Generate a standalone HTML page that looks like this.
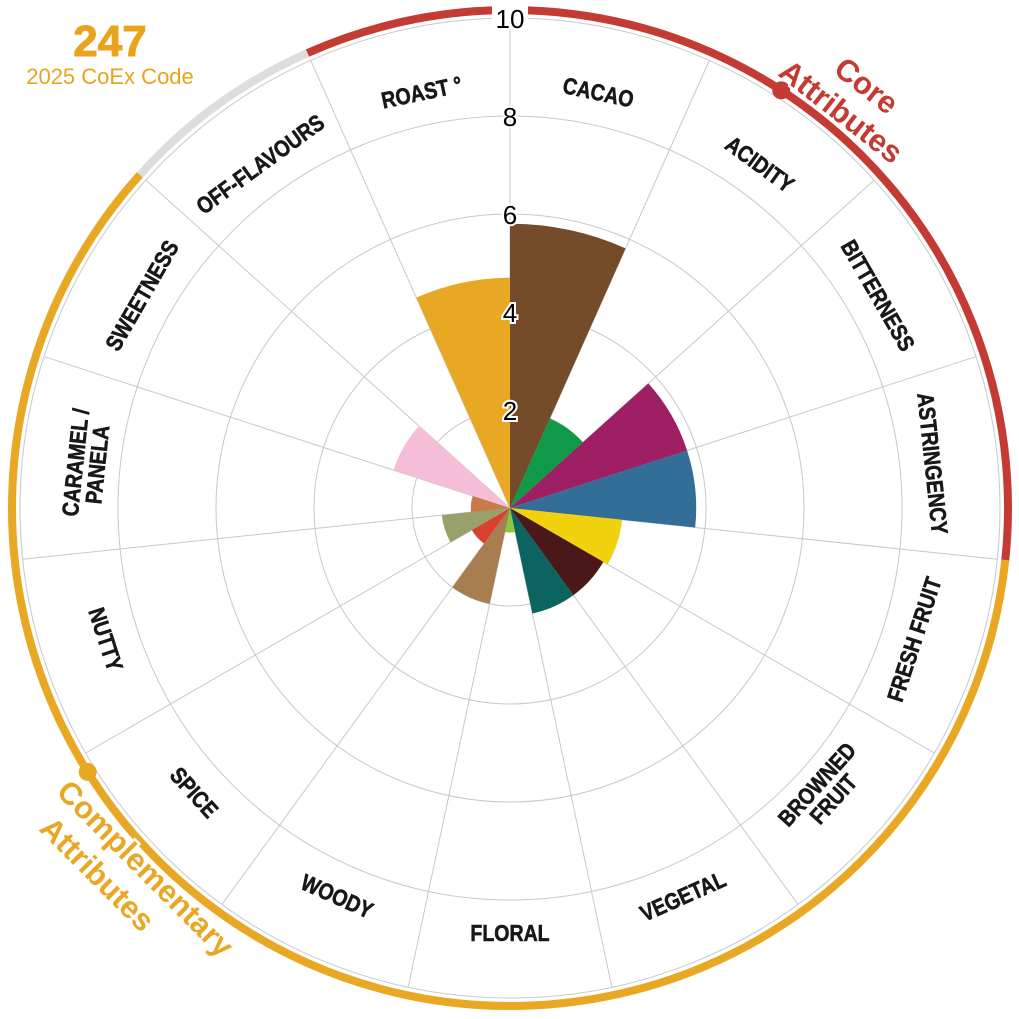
<!DOCTYPE html>
<html><head><meta charset="utf-8"><style>
html,body{margin:0;padding:0;background:#fff;}
svg{display:block;font-family:"Liberation Sans",sans-serif;}
</style></head><body>
<svg id="chart" width="1019" height="1019" viewBox="0 0 1019 1019" xmlns="http://www.w3.org/2000/svg">
<g id="grid"></g>
<g id="bars"></g>
<g id="ring"></g>
<g id="labels"></g>
<g id="ticks"></g>
<text x="110" y="56" text-anchor="middle" font-size="44" font-weight="bold" fill="#E8A41C" stroke="#E8A41C" stroke-width="1">247</text>
<text x="110" y="84" text-anchor="middle" font-size="22" fill="#E8A41C">2025 CoEx Code</text>
<text transform="translate(860,94) rotate(38)" text-anchor="middle" font-size="31" font-weight="bold" fill="#C33B32" stroke="#fff" stroke-width="5" paint-order="stroke"><tspan x="0" dy="0">Core</tspan><tspan x="-4" dy="36">Attributes</tspan></text>
<text transform="translate(138,876) rotate(45)" text-anchor="middle" font-size="31" font-weight="bold" fill="#E8A823" stroke="#fff" stroke-width="5" paint-order="stroke"><tspan x="0" dy="0">Complementary</tspan><tspan x="-30" dy="38">Attributes</tspan></text>
</svg>
<script>
const categories = ["CACAO","ACIDITY","BITTERNESS","ASTRINGENCY","FRESH FRUIT","BROWNED FRUIT","VEGETAL","FLORAL","WOODY","SPICE","NUTTY","CARAMEL / PANELA","SWEETNESS","OFF-FLAVOURS","ROAST °"];
const values = [5.8,2.0,3.8,3.8,2.3,2.2,2.2,0.5,2.0,0.9,1.4,0.8,2.5,0,4.7];
const colors = ["#754C29","#11994A","#9E1F63","#336E99","#F2D20F","#4A1818","#0B6460","#8DC63F","#A87D50","#D9412F","#9AA06A","#C87A4A","#F5BED6","#cccccc","#E8A823"];
const tickLabels = ["2","4","6","8","10"];
const tickValues = [2,4,6,8,10];
const NS="http://www.w3.org/2000/svg";
const cx=510, cy=508, R=490, maxV=10;
const n=categories.length, step=360/n;
const r = v => v/maxV*R;
const pt=(rad,deg)=>{const a=(deg-90)*Math.PI/180;return [cx+rad*Math.cos(a), cy+rad*Math.sin(a)];};
function mk(tag,attrs,parent){const e=document.createElementNS(NS,tag);for(const k in attrs)e.setAttribute(k,attrs[k]);parent.appendChild(e);return e;}
const grid=document.getElementById('grid');
tickValues.forEach(v=>{
  const c=mk('circle',{cx:cx,cy:cy,r:r(v),fill:'none',stroke:'#c8c8c8','stroke-width':1},grid);
  
  
});
for(let i=0;i<n;i++){
  const [x,y]=pt(R,i*step);
  const l=mk('line',{x1:cx,y1:cy,x2:x,y2:y,stroke:'#c8c8c8','stroke-width':1},grid);
  
  
}
const bars=document.getElementById('bars');
values.forEach((v,i)=>{
  if(v<=0)return;
  const a0=i*step,a1=(i+1)*step,rr=r(v);
  const [x0,y0]=pt(rr,a0),[x1,y1]=pt(rr,a1);
  const p=mk('path',{d:`M${cx},${cy}L${x0},${y0}A${rr},${rr} 0 0 1 ${x1},${y1}Z`,fill:colors[i]},bars);
  
  
});
const ring=document.getElementById('ring');
function arc(a0,a1,col,name){
  const RR=498;const [x0,y0]=pt(RR,a0),[x1,y1]=pt(RR,a1);
  const large=(a1-a0)>180?1:0;
  const p=mk('path',{d:`M${x0},${y0}A${RR},${RR} 0 ${large} 1 ${x1},${y1}`,fill:'none',stroke:col,'stroke-width':8},ring);
  
  
}
arc(-24,96,'#C33B32','core-arc');
arc(96,312,'#E8A823','complementary-arc');
arc(312,336,'#DDDDDD','off-flavour-arc');
[[33,'#C33B32'],[238,'#E8A823']].forEach(([a,c])=>{const [x,y]=pt(498,a);
  const d=mk('circle',{cx:x,cy:y,r:9,fill:c},ring);
  
  });
const labels=document.getElementById('labels');
categories.forEach((c,i)=>{
  const mid=i*step+step/2;
  const [x,y]=pt(425,mid);
  let rot=mid; if(mid>90&&mid<270) rot=mid-180; if(mid>=270) rot=mid-360;
  const t=mk('text',{transform:`translate(${x},${y}) rotate(${rot}) scale(0.85,1)`,'text-anchor':'middle','font-size':23,'font-weight':'bold',fill:'#1a1718',stroke:'#1a1718','stroke-width':0.6},labels);
  
  
  if(c==="CARAMEL / PANELA"){
    mk('tspan',{x:0,dy:-4},t).textContent="CARAMEL /";
    mk('tspan',{x:0,dy:22},t).textContent="PANELA";
  } else if(c==="BROWNED FRUIT"){
    mk('tspan',{x:0,dy:-4},t).textContent="BROWNED";
    mk('tspan',{x:0,dy:22},t).textContent="FRUIT";
  } else { t.setAttribute('dy','8'); t.textContent=c; }
});
const ticks=document.getElementById('ticks');
mk('rect',{x:492,y:0,width:36,height:28,fill:'#fff'},ticks);
tickValues.forEach((v,i)=>{
  const t=mk('text',{x:cx,y:cy-r(v)+10,'text-anchor':'middle','font-size':26,fill:'#000',stroke:'#fff','stroke-width':4,'paint-order':'stroke'},ticks);
  
  
  t.textContent=tickLabels[i];
});
</script>
</body></html>
